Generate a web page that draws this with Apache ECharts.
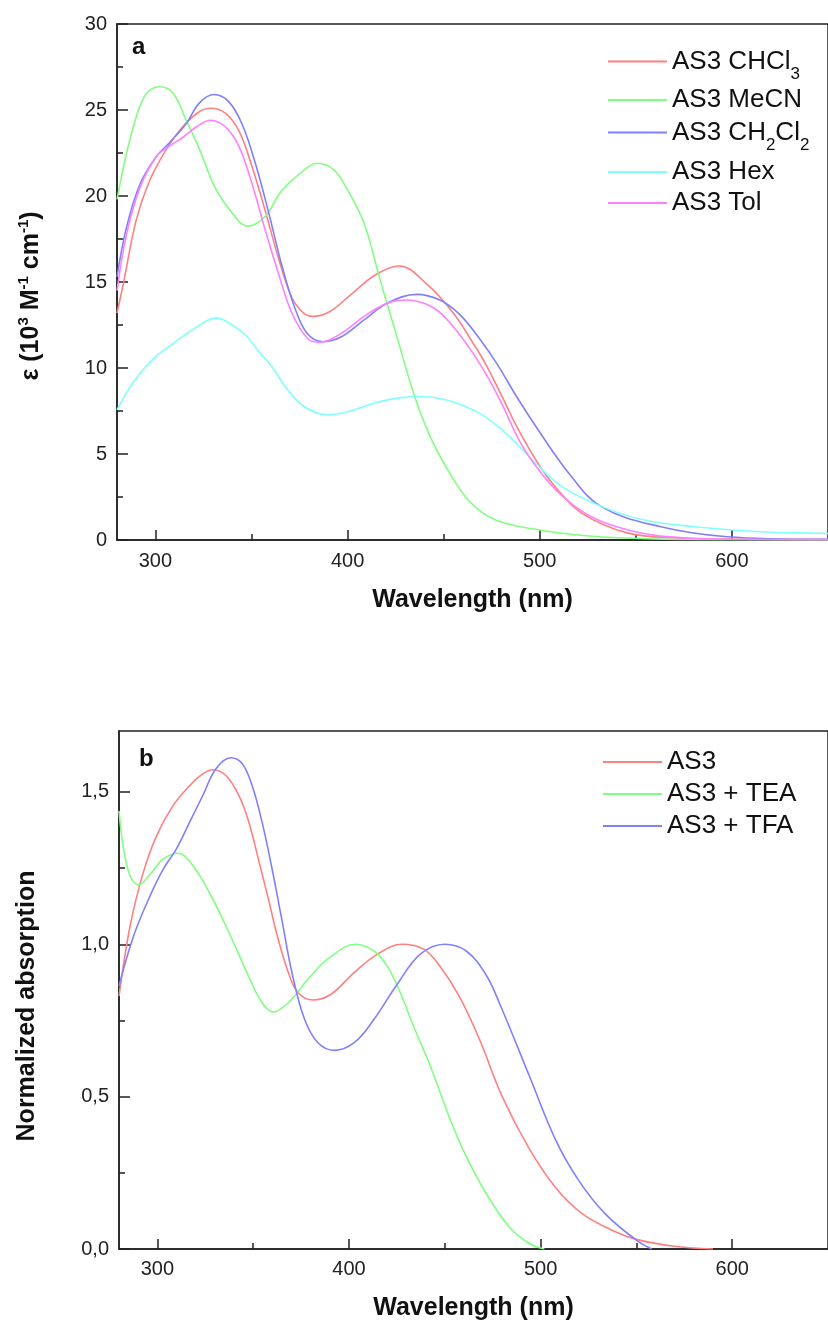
<!DOCTYPE html>
<html><head><meta charset="utf-8">
<script src="https://cdn.jsdelivr.net/npm/echarts@6/dist/echarts.min.js"></script>
<style>html,body{margin:0;padding:0;background:#fff}#c{width:828px;height:1326px}</style>
</head><body><div id="c"></div>
<script>
// ---------- Panel a : molar absorption coefficient (10^3 M^-1 cm^-1) ----------
const wlCHCl3  = [280,283.3,290,297,305.6,314,322.8,328.8,336.5,343.4,350,357.5,364,371,377,382,391,402,415,427,441,455,465,472,481,488,498,508,522,546,572,600,650];
const epsCHCl3 = [13.2,14.9,18.6,20.9,22.7,24.0,24.9,25.1,24.8,23.8,21.8,19.0,16.4,14.1,13.2,13.0,13.3,14.3,15.45,15.93,14.9,13.2,11.5,10.2,8.2,6.6,4.65,3.1,1.55,0.4,0.12,0.05,0.02];

const wlMeCN  = [280,285,290,295,302,309,316,323,331,340,348,357,365,374,384.5,393,400,408.6,417,425.7,435,443,451.5,463,477,500,529,560,600,650];
const epsMeCN = [19.8,22.5,24.6,25.9,26.35,26.0,24.4,22.7,20.5,19.0,18.25,18.8,20.2,21.2,21.9,21.5,20.35,18.4,15.1,11.8,8.3,6.0,4.2,2.3,1.16,0.58,0.2,0.06,0.02,0.01];

const wlCH2Cl2  = [280,285,292,300.5,307.3,316,322.8,330.5,338,345,352,359,365.7,372.5,379,387,396.5,408.6,420.6,436,448,458.4,468.7,478,487.6,498,515,532,563,597.5,646,650];
const epsCH2Cl2 = [15.3,18.2,20.7,22.3,23.1,24.2,25.4,25.9,25.5,24.2,21.9,19.0,16.0,13.5,12.0,11.53,11.8,12.8,13.76,14.28,13.95,13.1,11.7,10.2,8.4,6.6,3.9,1.94,0.77,0.19,0.04,0.04];

const wlHex  = [280,288,298.6,309,319,332,340,348,352,360.4,369,377.6,389.6,400,413.7,425.7,436,451.5,468.7,482.4,498,511.6,532.3,554.6,580.4,614.7,646,650];
const epsHex = [7.56,9.1,10.5,11.4,12.2,12.9,12.5,11.8,11.2,10.1,8.7,7.75,7.27,7.46,7.95,8.25,8.34,8.14,7.36,6.2,4.46,3.1,1.94,1.16,0.77,0.48,0.39,0.38];

const wlTol  = [280,285,292,300.5,307.3,314.2,321,328.8,336.5,343.4,350.3,357.2,364,371,379.3,385.4,396.5,408.6,420.6,431,444.6,455,465.3,473.8,479,494.4,518.5,546,580,620,650];
const epsTol = [14.5,17.8,20.5,22.3,22.9,23.4,24.0,24.4,24.0,22.9,20.7,18.0,15.5,13.2,11.7,11.5,12.0,13.0,13.76,13.95,13.5,12.4,10.85,9.3,8.2,4.85,1.94,0.58,0.1,0.03,0.02];

// ---------- Panel b : normalized absorption ----------
const wlAS3  = [280,285.8,292.7,299.6,308.2,316.8,323.7,328.9,335.8,342.6,347.8,353.5,358,362.5,368.4,373.5,381.2,390.6,402.7,414.7,427.7,438.9,447.4,457.5,468,480,494,508,521.5,537,551,571,590];
const absAS3 = [0.83,1.06,1.236,1.356,1.455,1.52,1.559,1.573,1.554,1.488,1.40,1.26,1.148,1.03,0.907,0.841,0.817,0.836,0.907,0.967,1.0,0.984,0.929,0.83,0.69,0.5,0.33,0.2,0.117,0.0625,0.03,0.008,0.0];

const wlTEA  = [280,282.4,285.8,290.2,296.2,303.1,310.8,318.6,327.1,335.8,344.4,348,354.5,360.5,368.3,378.6,388.9,403.5,413,419.9,426.8,433.7,442.5,450.9,459.5,471.5,483.6,493.9,502];
const absTEA = [1.438,1.3125,1.225,1.195,1.23,1.28,1.299,1.258,1.17,1.06,0.94,0.89,0.81,0.778,0.808,0.885,0.951,1.0,0.978,0.929,0.841,0.731,0.6,0.457,0.326,0.183,0.073,0.019,0.0];

const wlTFA  = [280,287.6,296.2,303.1,309.9,316.8,323.7,330.6,338.3,344.4,349.5,354.7,359.9,365,370.5,376.9,383.8,392.4,402.7,413,425.1,437.1,450,461.2,471.5,479,494,507.7,519.7,533.5,549.8,558];
const absTFA = [0.863,1.027,1.159,1.247,1.3125,1.40,1.488,1.576,1.612,1.592,1.52,1.40,1.247,1.08,0.9,0.753,0.677,0.652,0.677,0.753,0.868,0.967,1.0,0.978,0.9,0.8,0.57,0.36,0.227,0.117,0.03,0.0];

// ticks
const xMajor = [300,400,500,600];
const xMinor = [350,450,550];
const yBMajor = [0,0.5,1.0,1.5];
const yBMinor = [0.25,0.75,1.25];

const FONT = '"Liberation Sans", Arial, sans-serif';
const AX = '#222';
const zip = (a,b) => a.map((v,i)=>[v,b[i]]);

function line(name, xs, ys, color, g){
  return {name, type:'line', xAxisIndex:g*2, yAxisIndex:g*2, data:zip(xs,ys),
    symbol:'none', showSymbol:false, smooth:0.38, clip:true,
    lineStyle:{color, width:1.6}, itemStyle:{color}, emphasis:{disabled:true}};
}

const majorX = (g, gap, margin) => ({
  gridIndex:g, type:'value', min:280, max:650, position:'bottom',
  axisLine:{show:true, onZero:false, lineStyle:{color:AX, width:1.5}},
  axisTick:{show:true, inside:true, length:10, customValues:xMajor, lineStyle:{color:AX, width:1.5}},
  axisLabel:{customValues:xMajor, fontSize:20, color:AX, margin, fontFamily:FONT},
  splitLine:{show:false},
  name:'Wavelength (nm)', nameLocation:'middle', nameGap:gap,
  nameTextStyle:{fontSize:25, fontWeight:'bold', color:'#111', fontFamily:FONT, lineHeight:25}
});
const minorX = g => ({
  gridIndex:g, type:'value', min:280, max:650, position:'bottom',
  axisLine:{show:false}, axisLabel:{show:false}, splitLine:{show:false},
  axisTick:{show:true, inside:true, length:6, customValues:xMinor, lineStyle:{color:AX, width:1.5}}
});

const legendCommon = {
  orient:'vertical', padding:0, itemWidth:59, itemHeight:2, icon:'rect', selectedMode:false,
  textStyle:{fontSize:26, lineHeight:26, color:'#111', fontFamily:FONT,
    rich:{
      m:{fontSize:26, lineHeight:26, color:'#111', fontFamily:FONT},
      s:{fontSize:17, lineHeight:9, padding:[26,0,0,0], color:'#111', fontFamily:FONT}
    }},
  formatter: n => {
    if (n === 'AS3 CHCl3') return '{m|AS3 CHCl}{s|3}';
    if (n === 'AS3 CH2Cl2') return '{m|AS3 CH}{s|2}{m|Cl}{s|2}';
    return '{m|' + n + '}';
  }
};

const option = {
  animation:false,
  backgroundColor:'#fff',
  textStyle:{fontFamily:FONT},
  title:[
    {text:'a', left:132, top:35, padding:0, textStyle:{fontSize:24, fontWeight:'bold', color:'#111', fontFamily:FONT, lineHeight:24}},
    {text:'b', left:139, top:747, padding:0, textStyle:{fontSize:24, fontWeight:'bold', color:'#111', fontFamily:FONT, lineHeight:24}}
  ],
  grid:[
    {left:117, top:24, width:718, height:516, show:true, borderColor:AX, borderWidth:1.5, backgroundColor:'rgba(0,0,0,0)'},
    {left:119, top:731, width:717, height:518, show:true, borderColor:AX, borderWidth:1.5, backgroundColor:'rgba(0,0,0,0)'}
  ],
  xAxis:[ majorX(0, 48, 11), minorX(0), majorX(1, 47, 10), minorX(1) ],
  yAxis:[
    {gridIndex:0, type:'value', min:0, max:30, interval:5, position:'left',
     axisLine:{show:true, onZero:false, lineStyle:{color:AX, width:1.5}},
     axisTick:{show:true, inside:true, length:11, lineStyle:{color:AX, width:1.5}},
     minorTick:{show:true, splitNumber:2, length:6, lineStyle:{color:AX, width:1.5}},
     axisLabel:{fontSize:20, color:AX, margin:10, fontFamily:FONT},
     splitLine:{show:false}, minorSplitLine:{show:false},
     name:'{b|ε (10}{p|3}{b| M}{p|-1}{b| cm}{p|-1}{b|)}', nameLocation:'middle', nameGap:73,
     nameTextStyle:{fontSize:25, lineHeight:25, color:'#111', fontFamily:FONT, padding:[0,28,0,0],
       rich:{ b:{fontSize:25, lineHeight:25, fontWeight:'bold', color:'#111', fontFamily:FONT},
              p:{fontSize:15, lineHeight:9, padding:[0,0,16,0], fontWeight:'bold', color:'#111', fontFamily:FONT} }}},
    {gridIndex:0, type:'value', min:0, max:30, position:'left', show:false},
    {gridIndex:1, type:'value', min:0, max:1.7, position:'left',
     axisLine:{show:true, onZero:false, lineStyle:{color:AX, width:1.5}},
     axisTick:{show:true, inside:true, length:11, customValues:yBMajor, lineStyle:{color:AX, width:1.5}},
     axisLabel:{customValues:yBMajor, fontSize:20, color:AX, margin:10, fontFamily:FONT,
       formatter: v => v.toFixed(1).replace('.', ',')},
     splitLine:{show:false},
     name:'Normalized absorption', nameLocation:'middle', nameGap:79,
     nameTextStyle:{fontSize:25, lineHeight:25, fontWeight:'bold', color:'#111', fontFamily:FONT, padding:[0,32,0,0]}},
    {gridIndex:1, type:'value', min:0, max:1.7, position:'left',
     axisLine:{show:false}, axisLabel:{show:false}, splitLine:{show:false},
     axisTick:{show:true, inside:true, length:6, customValues:yBMinor, lineStyle:{color:AX, width:1.5}}}
  ],
  legend:[
    Object.assign({}, legendCommon, {data:['AS3 CHCl3'], left:608, top:40}),
    Object.assign({}, legendCommon, {data:['AS3 MeCN'], left:608, top:87}),
    Object.assign({}, legendCommon, {data:['AS3 CH2Cl2'], left:608, top:111}),
    Object.assign({}, legendCommon, {data:['AS3 Hex'], left:608, top:159}),
    Object.assign({}, legendCommon, {data:['AS3 Tol'], left:608, top:190}),
    Object.assign({}, legendCommon, {data:['AS3','AS3 + TEA','AS3 + TFA'], left:603, top:749, itemGap:6})
  ],
  series:[
    line('AS3 CHCl3', wlCHCl3, epsCHCl3, '#ff8080', 0),
    line('AS3 MeCN', wlMeCN, epsMeCN, '#80ff80', 0),
    line('AS3 CH2Cl2', wlCH2Cl2, epsCH2Cl2, '#8080ff', 0),
    line('AS3 Hex', wlHex, epsHex, '#80ffff', 0),
    line('AS3 Tol', wlTol, epsTol, '#ff80ff', 0),
    line('AS3', wlAS3, absAS3, '#ff8080', 1),
    line('AS3 + TEA', wlTEA, absTEA, '#80ff80', 1),
    line('AS3 + TFA', wlTFA, absTFA, '#8080ff', 1)
  ]
};
const chart = echarts.init(document.getElementById('c'));
chart.setOption(option);
</script></body></html>
